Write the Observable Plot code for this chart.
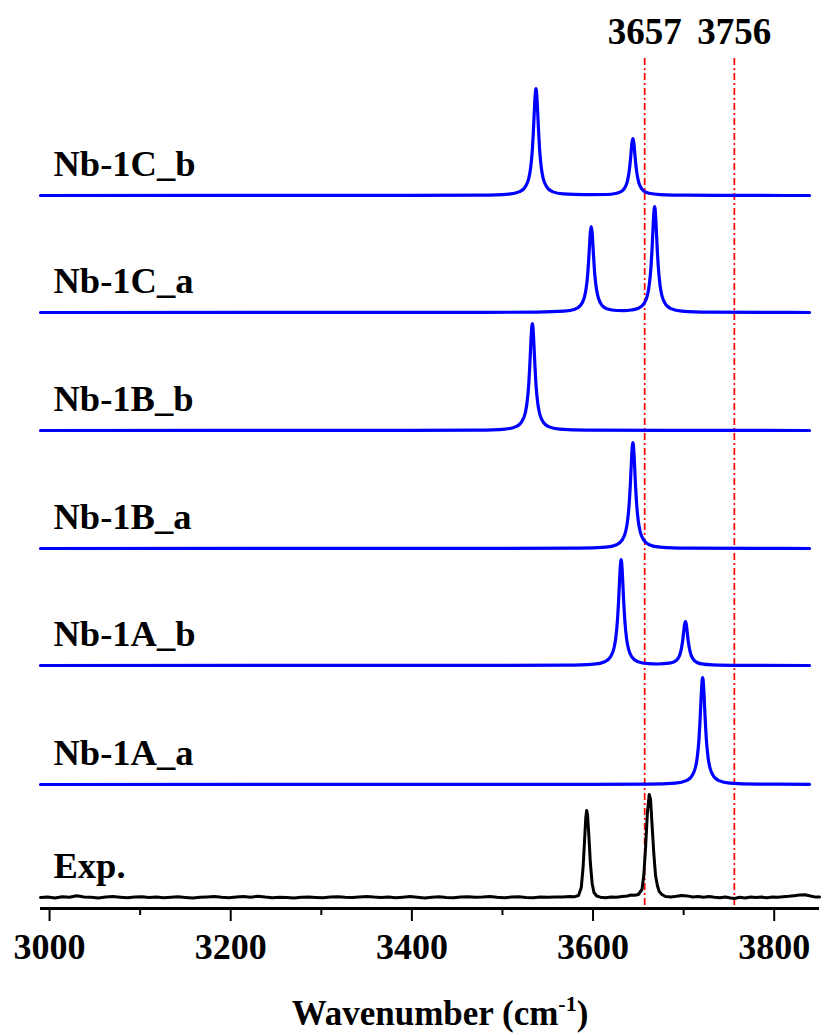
<!DOCTYPE html>
<html><head><meta charset="utf-8">
<script src="https://cdn.jsdelivr.net/npm/d3@7"></script>
<script src="https://cdn.jsdelivr.net/npm/@observablehq/plot@0.6"></script>
<style>body{margin:0;background:#fff} svg{display:block}</style>
</head><body><div id="chart"></div>
<script>
// ---- data (intensities in arbitrary units) ----
const traceNames = ["Exp.", "Nb-1A_a", "Nb-1A_b", "Nb-1B_a", "Nb-1B_b", "Nb-1C_a", "Nb-1C_b"];
const traceOffsets = [0, 113, 232, 349, 467, 585, 702];
const markerLines = [3657, 3756];
const majorTicks = [3000, 3200, 3400, 3600, 3800];
const minorTicks = [3100, 3300, 3500, 3700];
const xDomain = [2990, 3850];

const expData = [[2990,0],[2998,0.5],[3006,-0.5],[3014,0.8],[3022,0.2],[3030,1.8],[3038,0.6],[3046,0.2],[3054,-0.4],[3062,0.5],[3070,0.9],[3078,0.3],[3086,-0.2],[3094,0.4],[3102,0.8],[3110,0.1],[3118,0.5],[3126,-0.3],[3134,0.2],[3142,0.7],[3150,0.1],[3158,-0.4],[3166,0.3],[3174,0.6],[3182,1.0],[3190,0.2],[3198,-0.3],[3206,0.4],[3214,0.9],[3222,0.3],[3230,1.2],[3238,0.4],[3246,-0.2],[3254,0.3],[3262,0.0],[3270,-0.5],[3278,0.2],[3286,0.6],[3294,0.1],[3302,-0.3],[3310,0.4],[3318,0.8],[3326,0.2],[3334,-0.1],[3342,0.5],[3350,1.1],[3358,0.4],[3366,0.0],[3374,0.6],[3382,-0.2],[3390,0.3],[3398,0.9],[3406,0.2],[3414,-0.4],[3422,0.3],[3430,0.7],[3438,0.1],[3446,-0.3],[3454,0.4],[3462,0.8],[3470,0.2],[3478,0.5],[3486,1.0],[3494,0.3],[3502,-0.2],[3510,0.4],[3518,0.7],[3526,0.1],[3534,-0.3],[3542,0.5],[3550,0.2],[3558,0.6],[3566,0.4],[3574,0.9],
[3580,0.8],[3584,2],[3587,10],[3589,30],[3590.5,55],[3592,80],[3593,87],[3594,82],[3595.5,60],[3597,35],[3599,14],[3601,5],[3604,1.5],[3608,0.3],[3614,-0.3],[3620,0.5],[3626,0.2],[3632,1.0],[3638,1.5],[3642,2.5],[3646,2.2],[3650,3],[3654,8],[3656,22],[3658,50],[3660,85],[3662,103],[3663.5,98],[3665,75],[3667,45],[3669,22],[3671,12],[3673,6],[3676,3],[3680,1],[3686,0.6],[3692,1.2],[3698,2.0],[3704,1.6],[3710,0.5],[3716,0.9],[3722,0.3],[3728,1.0],[3734,0.2],[3740,-0.3],[3746,0.5],[3752,-0.5],[3756,-1.0],[3762,0.3],[3768,-0.4],[3774,0.6],[3780,0.0],[3786,0.4],[3792,-0.2],[3798,0.5],[3804,0.3],[3810,0.8],[3816,1.2],[3822,1.8],[3828,2.5],[3834,2.8],[3840,1.5],[3846,0.4],[3850,0.6]];

const nb1AaData = [[2990,0],[3560,0.1],[3661,0.4],[3691,1.4],[3703,3.9],[3709,8.4],[3713,17],[3715,27],[3717,46],[3718,62],[3719,81],[3720,99],[3721,107],[3722,99],[3723,81],[3724,62],[3725,46],[3727,27],[3729,17],[3733,8.4],[3739,3.9],[3751,1.4],[3781,0.4],[3839,0.2]];

const nb1AbData = [[2990,0],[3490,0.1],[3571,0.4],[3601,1.4],[3613,3.8],[3619,8.3],[3623,17],[3625,27],[3627,46],[3628,61],[3629,80],[3630,98],[3631,106],[3632,98],[3633,80],[3634,61],[3635,46],[3637,27],[3639,17],[3643,8.3],[3649,4],[3661,1.8],[3672,1.5],[3684,2.3],[3690,3.8],[3694,7.4],[3696,11.2],[3698,19.2],[3699,25.2],[3700,33.2],[3701,41],[3702,44],[3703,41],[3704,33],[3705,25],[3706,19],[3708,11],[3710,7.1],[3714,3.4],[3720,1.6],[3732,0.6],[3762,0.15],[3839,0]];

const nb1BaData = [[2990,0],[3500,0.1],[3584,0.4],[3614,1.4],[3626,3.8],[3632,8.3],[3636,17],[3638,27],[3640,46],[3641,61],[3642,80],[3643,98],[3644,106],[3645,98],[3646,80],[3647,61],[3648,46],[3650,27],[3652,17],[3656,8.3],[3662,3.8],[3674,1.4],[3704,0.4],[3780,0.1],[3839,0]];

const nb1BbData = [[2990,0],[3400,0.1],[3473,0.4],[3503,1.4],[3515,3.9],[3521,8.4],[3525,17],[3527,27],[3529,46],[3530,62],[3531,81],[3532,99],[3533,107],[3534,99],[3535,81],[3536,62],[3537,46],[3539,27],[3541,17],[3545,8.4],[3551,3.9],[3563,1.4],[3593,0.4],[3680,0.1],[3839,0]];

const nb1CaData = [[2990,0],[3480,0.1],[3538,0.4],[3568,1.3],[3580,3.3],[3586,7],[3590,14],[3592,22],[3594,37],[3595,50],[3596,65],[3597,80],[3598,86],[3599,80],[3600,65],[3601,50],[3602,37],[3604,22.2],[3606,14.2],[3610,7],[3616,3.5],[3626,2],[3634,1.9],[3642,2.5],[3650,4.2],[3656,8.6],[3660,17.2],[3662,27.2],[3664,46],[3665,61],[3666,80],[3667,98],[3668,106],[3669,98],[3670,80],[3671,61],[3672,46],[3674,27],[3676,17],[3680,8.4],[3686,3.9],[3698,1.4],[3728,0.4],[3800,0.1],[3839,0]];

const nb1CbData = [[2990,0],[3400,0.1],[3477,0.4],[3507,1.4],[3519,3.9],[3525,8.4],[3529,17],[3531,27],[3533,46],[3534,62],[3535,81],[3536,99],[3537,107],[3538,99],[3539,81],[3540,62],[3541,46],[3543,27],[3545,17],[3549,8.4],[3555,3.9],[3567,1.6],[3590,0.8],[3614,1.0],[3626,2.3],[3632,4.5],[3636,9.3],[3638,14.6],[3640,25],[3641,33],[3642,43],[3643,53],[3644,57],[3645,53],[3646,43],[3647,33],[3648,25],[3650,14.6],[3652,9.3],[3656,4.5],[3662,2.2],[3674,0.9],[3704,0.3],[3760,0.1],[3839,0]];

const traceData = [expData, nb1AaData, nb1AbData, nb1BaData, nb1BbData, nb1CaData, nb1CbData];

// ---- build table ----
const rows = [];
traceData.forEach((pts, i) => pts.forEach(([x, v]) => rows.push({name: traceNames[i], x, y: traceOffsets[i] + v})));
const labels = traceNames.map((name, i) => ({name, y: traceOffsets[i]}));

const FONT = "'Liberation Serif', 'Times New Roman', serif";

const plot = Plot.plot({
  width: 826,
  height: 1035,
  marginLeft: 40,
  marginRight: 7,
  marginTop: 58,
  marginBottom: 127,
  style: {fontFamily: FONT, fontWeight: "bold", color: "black", background: "white", overflow: "visible"},
  x: {domain: xDomain},
  y: {domain: [-11, 839], axis: null},
  marks: [
    Plot.ruleX(markerLines, {stroke: "#ff0000", strokeWidth: 1.7, strokeDasharray: "7,3,2,3"}),
    Plot.line(rows.filter(d => d.name !== "Exp."), {x: "x", y: "y", z: "name", stroke: "#0000ff", strokeWidth: 3.2, curve: "monotone-x"}),
    Plot.line(rows.filter(d => d.name === "Exp."), {x: "x", y: "y", stroke: "black", strokeWidth: 3, curve: "linear", strokeLinejoin: "round"}),
    Plot.text(labels, {x: xDomain[0], y: "y", text: "name", textAnchor: "start", lineAnchor: "bottom", dx: 13, dy: -20, fontSize: 36.5, fontWeight: "bold", fill: "black"}),
    Plot.text(markerLines, {x: d => d, y: 839, text: d => String(d), textAnchor: "middle", lineAnchor: "bottom", dy: -15, fontSize: 37, fontWeight: "bold", fill: "black"}),
    Plot.ruleY([-11], {stroke: "black", strokeWidth: 3}),
    Plot.axisX({ticks: majorTicks, tickSize: 13, tickPadding: 12, fontSize: 36, fontWeight: "bold", strokeWidth: 2, label: null, tickFormat: d => String(d)}),
    Plot.axisX({ticks: minorTicks, tickSize: 7, strokeWidth: 2, label: null, tickFormat: () => ""})
  ]
});

// x-axis title with superscript
const svg = d3.select(plot);
const t = svg.append("text")
  .attr("x", 440).attr("y", 1025)
  .attr("text-anchor", "middle")
  .attr("font-family", FONT).attr("font-weight", "bold").attr("font-size", 35).attr("fill", "black");
t.append("tspan").text("Wavenumber (cm");
t.append("tspan").attr("font-size", 22).attr("dy", -14).text("-1");
t.append("tspan").attr("dy", 14).text(")");

document.getElementById("chart").appendChild(plot);
</script>
</body></html>
